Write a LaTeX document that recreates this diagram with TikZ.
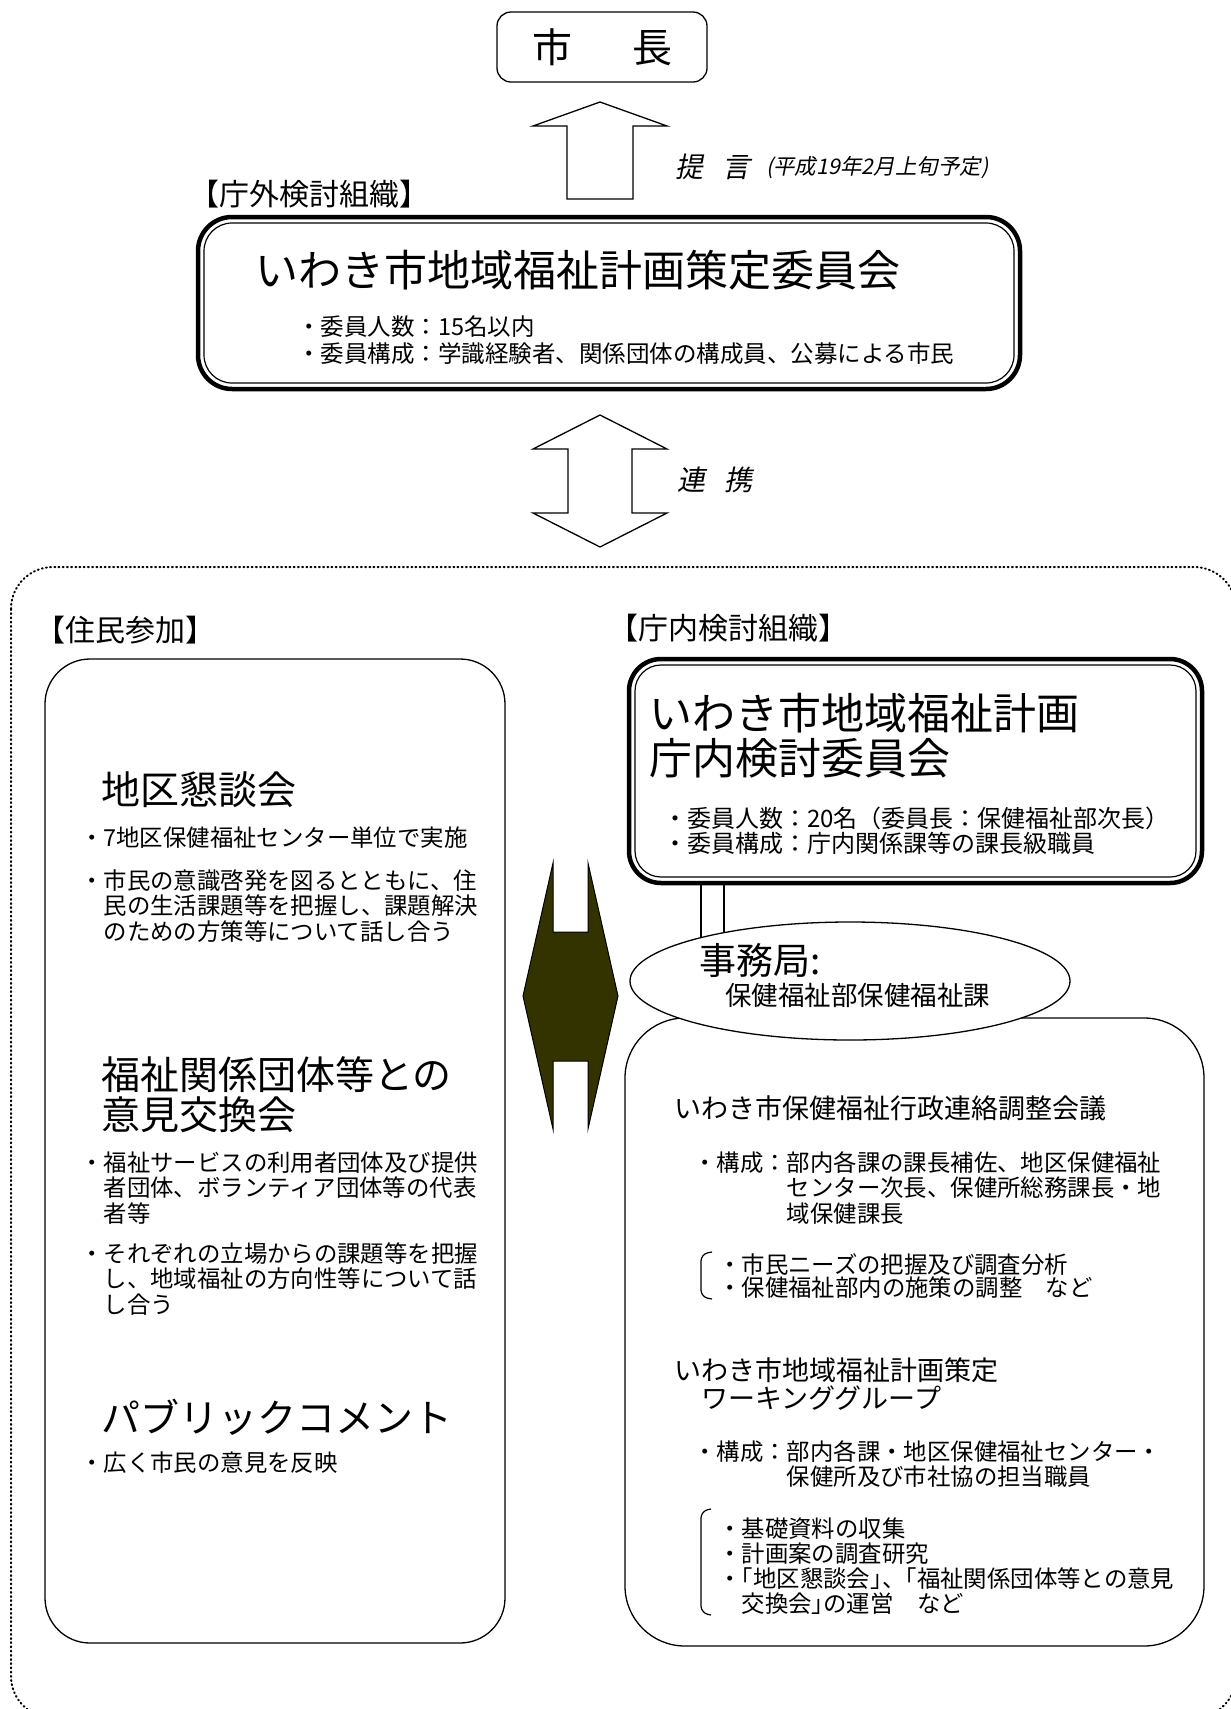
\documentclass[tikz,border=0pt]{standalone}
\usepackage{fontspec}
\setmainfont{Noto Sans CJK JP}
\newfontfamily\jpslant{Noto Sans CJK JP}[FakeSlant=0.2]
\usetikzlibrary{calc,shapes.geometric}
\definecolor{darkolive}{RGB}{51,51,0}

\begin{document}
\begin{tikzpicture}[x=1pt, y=-1pt,
    box/.style={draw, line width=1.3, rounded corners=#1}, box/.default=45,
    dbl/.style={draw, line width=4.5, outer sep=0pt, rounded corners=#1},
    note/.style={anchor=west, inner sep=0pt, align=left, font=\fontsize{23.4}{25.5}\selectfont},
    head/.style={anchor=west, inner sep=0pt, align=left, font=\fontsize{39}{40}\selectfont},
    sub/.style={anchor=west, inner sep=0pt, align=left, font=\fontsize{27}{28}\selectfont},
    tag/.style={anchor=west, inner sep=0pt, font=\fontsize{30}{31}\selectfont},
    slant/.style={anchor=west, inner sep=0pt, font=\fontsize{28}{30}\jpslant},
    blk/.style={draw, line width=1.3, fill=white}]
        \useasboundingbox (0,0) rectangle (1231,1709);
        \draw[line width=2, dash pattern=on 1pt off 3.2pt, line cap=round, rounded corners=42] (11,567) rectangle (1236,1718);

        \node(shicho) at (602,47) [box=14, minimum width=210, minimum height=70, inner sep=0pt, font=\fontsize{40}{42}\selectfont] {市\hspace{1.5em}長};
        \coordinate (t) at (600,102);
        \draw[blk] (t) -- ++(67,24) -- ++(-34,0) -- ++(0,73) -- ++(-66,0) -- ++(0,-73) -- ++(-34,0) -- cycle;
        \node(teigen) at (675,167) [slant] {提\hspace{0.7em}言};
        \node(yotei) at (766,168) [slant, font=\fontsize{21.5}{22}\jpslant] {(平成19年2月上旬予定)};

        \node(soto) at (189,194) [tag] {【庁外検討組織】};
        \node(iinkai) at (609,303) [dbl=34, minimum width=822, minimum height=172] {};
        \draw[line width=1.2, rounded corners=28] ($(iinkai.north west)+(6,6)$) rectangle ($(iinkai.south east)+(-6,-6)$);
        \node(iname) at (255,270) [anchor=west, inner sep=0pt, font=\fontsize{43}{44}\selectfont] {いわき市地域福祉計画策定委員会};
        \node(imem) at (297,340.5) [note, font=\fontsize{23.5}{27}\selectfont] {・委員人数：15名以内\\・委員構成：学識経験者、関係団体の構成員、公募による市民};

        \coordinate (r) at (600,415);
        \draw[blk] (r) -- ++(67,34) -- ++(-35,0) -- ++(0,64) -- ++(35,0) -- ++(-67,34) -- ++(-67,-34) -- ++(35,0) -- ++(0,-64) -- ++(-35,0) -- cycle;
        \node(renkei) at (677,480) [slant] {連\hspace{0.7em}携};

        \node(jlabel) at (35,630) [tag] {【住民参加】};
        \node(jumin) at (275,1151) [box=45, minimum width=460, minimum height=984] {};
        \node(kon) at (101,790) [head] {地区懇談会};
        \node(kon1) at (80,838) [note] {・7地区保健福祉センター単位で実施};
        \node(kon2) at (80,906) [note] {・市民の意識啓発を図るとともに、住\\\hspace*{1em}民の生活課題等を把握し、課題解決\\\hspace*{1em}のための方策等について話し合う};
        \node(iken) at (101,1095) [head] {福祉関係団体等との\\意見交換会};
        \node(iken1) at (80,1188) [note] {・福祉サービスの利用者団体及び提供\\\hspace*{1em}者団体、ボランティア団体等の代表\\\hspace*{1em}者等};
        \node(iken2) at (80,1279) [note] {・それぞれの立場からの課題等を把握\\\hspace*{1em}し、地域福祉の方向性等について話\\\hspace*{1em}し合う};
        \node(pub) at (101,1417) [head] {パブリックコメント};
        \node(pub1) at (80,1463) [note] {・広く市民の意見を反映};

        \coordinate (k) at (553,863);
        \draw[line width=1, fill=darkolive] (k) -- ++(0,69) -- ++(35,0) -- ++(0,-69) -- ++(30,133) -- ++(-30,133) -- ++(0,-68) -- ++(-35,0) -- ++(0,68) -- ++(-30,-133) -- cycle;

        \node(clabel) at (608,628) [tag] {【庁内検討組織】};
        \node(chonai) at (915.5,771) [dbl=32, minimum width=573, minimum height=224] {};
        \draw[line width=1.2, rounded corners=26] ($(chonai.north west)+(6,6)$) rectangle ($(chonai.south east)+(-6,-6)$);
        \node(cname) at (649,735.5) [anchor=west, inner sep=0pt, align=left, font=\fontsize{43}{45}\selectfont] {いわき市地域福祉計画\\庁内検討委員会};
        \node(cmem) at (663,830.5) [note, font=\fontsize{24}{25}\selectfont] {・委員人数：20名（委員長：保健福祉部次長）\\・委員構成：庁内関係課等の課長級職員};

        \node(kaigi) at (914.5,1332) [box=60, minimum width=579, minimum height=628] {};
        \coordinate (jc) at (850,981);
        \coordinate (la) at (701,0);
        \coordinate (lb) at (724,0);
        \draw[line width=1.3] (la |- chonai.south) -- (la |- jc);
        \draw[line width=1.3] (lb |- chonai.south) -- (lb |- jc);
        \node(jimu) at (jc) [ellipse, draw, line width=1.3, fill=white, minimum width=440, minimum height=118, inner sep=0pt] {};
        \node(jimu1) at (699,960) [anchor=west, inner sep=0pt, font=\fontsize{37}{38}\selectfont] {事務局:};
        \node(jimu2) at (725,995) [anchor=west, inner sep=0pt, font=\fontsize{26.5}{28}\selectfont] {保健福祉部保健福祉課};

        \node(renraku) at (674,1108) [sub] {いわき市保健福祉行政連絡調整会議};
        \node(ren1) at (693,1188) [note] {・構成：部内各課の課長補佐、地区保健福祉\\\hspace*{4em}センター次長、保健所総務課長・地\\\hspace*{4em}域保健課長};
        \node(ren2) at (718,1276.5) [note, font=\fontsize{23.4}{23}\selectfont] {・市民ニーズの把握及び調査分析\\・保健福祉部内の施策の調整　など};
        \draw[line width=1.2, rounded corners=7] (712,1252) -- (701,1254) -- (701,1297) -- (712,1299);

        \node(wg) at (674,1384) [sub] {いわき市地域福祉計画策定\\\hspace*{1em}ワーキンググループ};
        \node(wg1) at (693,1464.5) [note, font=\fontsize{23.4}{25}\selectfont] {・構成：部内各課・地区保健福祉センター・\\\hspace*{4em}保健所及び市社協の担当職員};
        \node(wg2) at (718,1566) [note, font=\fontsize{23.4}{25}\selectfont] {・基礎資料の収集\\・計画案の調査研究\\・\kern-0.5em「地区懇談会」\kern-0.5em、\kern-0.5em「福祉関係団体等との意見\\\hspace*{1em}交換会」\kern-0.5em{}の運営　など};
        \draw[line width=1.2, rounded corners=7] (711,1509) -- (701,1511) -- (701,1613) -- (711,1615);
    \end{tikzpicture}
\end{document}
